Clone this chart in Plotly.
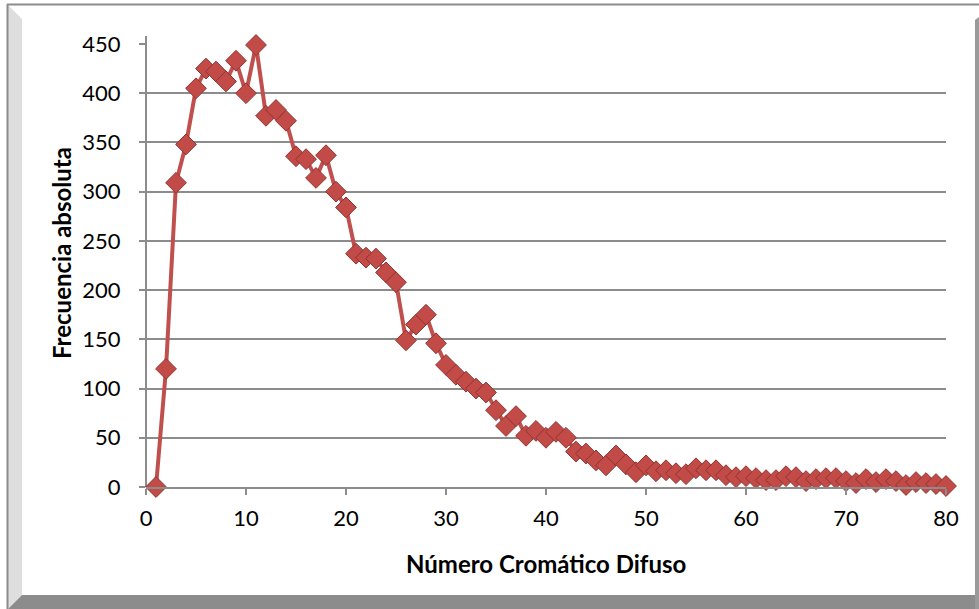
import plotly.graph_objects as go

x_vals = list(range(1, 81))
frecuencia = [
    0, 120, 309, 348, 405, 425, 422, 412, 433, 400,
    449, 377, 383, 372, 336, 333, 314, 337, 300, 284,
    237, 233, 232, 218, 208, 149, 165, 175, 146, 124,
    114, 107, 100, 96, 78, 62, 72, 52, 57, 50,
    56, 50, 36, 34, 27, 22, 32, 23, 15, 22,
    16, 17, 14, 13, 19, 17, 17, 12, 10, 11,
    9, 7, 7, 11, 10, 6, 8, 9, 9, 6,
    4, 8, 5, 8, 6, 2, 5, 4, 3, 1,
]
x_ticks = [0, 10, 20, 30, 40, 50, 60, 70, 80]
y_ticks = [0, 50, 100, 150, 200, 250, 300, 350, 400, 450]
x_title = "Número Cromático Difuso"
y_title = "Frecuencia absoluta"

W, H = 979, 609
L, R, T, B = 146, 33, 44, 122
PW, PH = W - L - R, H - T - B


def px(p):
    return (p - L) / PW


def py(p):
    return (H - B - p) / PH


def path(points):
    s = "M " + " L ".join(f"{px(a):.5f},{py(b):.5f}" for a, b in points) + " Z"
    return s


fig = go.Figure()
fig.add_trace(go.Scatter(
    x=x_vals, y=frecuencia, mode="lines+markers",
    line=dict(color="#C0504D", width=4),
    marker=dict(symbol="diamond", size=16, color="#C24A47",
                line=dict(color="#8E3533", width=1)),
    cliponaxis=False, showlegend=False,
))

grid = "#8C8C8C"
shapes = [
    dict(type="path", xref="paper", yref="paper", layer="below",
         path=path([(8, 5), (22, 19), (22, 595), (8, 609)]),
         fillcolor="#DEDEDE", line=dict(width=0)),
    dict(type="path", xref="paper", yref="paper", layer="below",
         path=path([(8, 609), (22, 595), (979, 595), (979, 609)]),
         fillcolor="#8C8C8C", line=dict(width=0)),
    dict(type="path", xref="paper", yref="paper", layer="below",
         path=path([(975, 20), (979, 17), (979, 609), (975, 609)]),
         fillcolor="#9A9A9A", line=dict(width=0)),
    dict(type="line", xref="paper", yref="paper", layer="below",
         x0=px(7), x1=px(979), y0=py(4.5), y1=py(4.5),
         line=dict(color="#8C8C8C", width=2)),
    dict(type="line", xref="paper", yref="paper", layer="below",
         x0=px(7.5), x1=px(7.5), y0=py(4), y1=py(609),
         line=dict(color="#8C8C8C", width=2)),
    dict(type="line", xref="paper", yref="paper", layer="below",
         x0=px(146), x1=px(146), y0=py(36), y1=py(487),
         line=dict(color=grid, width=2)),
]

annotations = [
    dict(text=f"<b>{x_title}</b>", xref="paper", yref="paper",
         x=px(546), y=py(563), xanchor="center", yanchor="middle",
         showarrow=False,
         font=dict(family="Lato", size=24, color="#000000")),
    dict(text=f"<b>{y_title}</b>", xref="paper", yref="paper",
         x=px(61), y=py(253), xanchor="center", yanchor="middle",
         showarrow=False, textangle=-90,
         font=dict(family="Lato", size=24, color="#000000")),
]

fig.update_layout(
    width=W, height=H,
    margin=dict(l=L, r=R, t=T, b=B),
    paper_bgcolor="#FFFFFF", plot_bgcolor="#FFFFFF",
    font=dict(family="Lato", size=22, color="#000000"),
    shapes=shapes, annotations=annotations,
    xaxis=dict(range=[0, 80], tickvals=x_ticks, ticks="outside", ticklen=6,
               tickcolor=grid, tickwidth=2, showgrid=False, zeroline=False,
               showline=True, linecolor=grid, linewidth=2,
               tickfont=dict(family="Lato", size=22, color="#000000"),
               ticklabelstandoff=5),
    yaxis=dict(range=[0, 450], tickvals=y_ticks, ticks="outside", ticklen=6,
               tickcolor=grid, tickwidth=2, showgrid=True, gridcolor=grid,
               gridwidth=2, zeroline=False, showline=False,
               tickfont=dict(family="Lato", size=22, color="#000000"),
               ticklabelstandoff=14),
)

fig.write_html("out.html")
